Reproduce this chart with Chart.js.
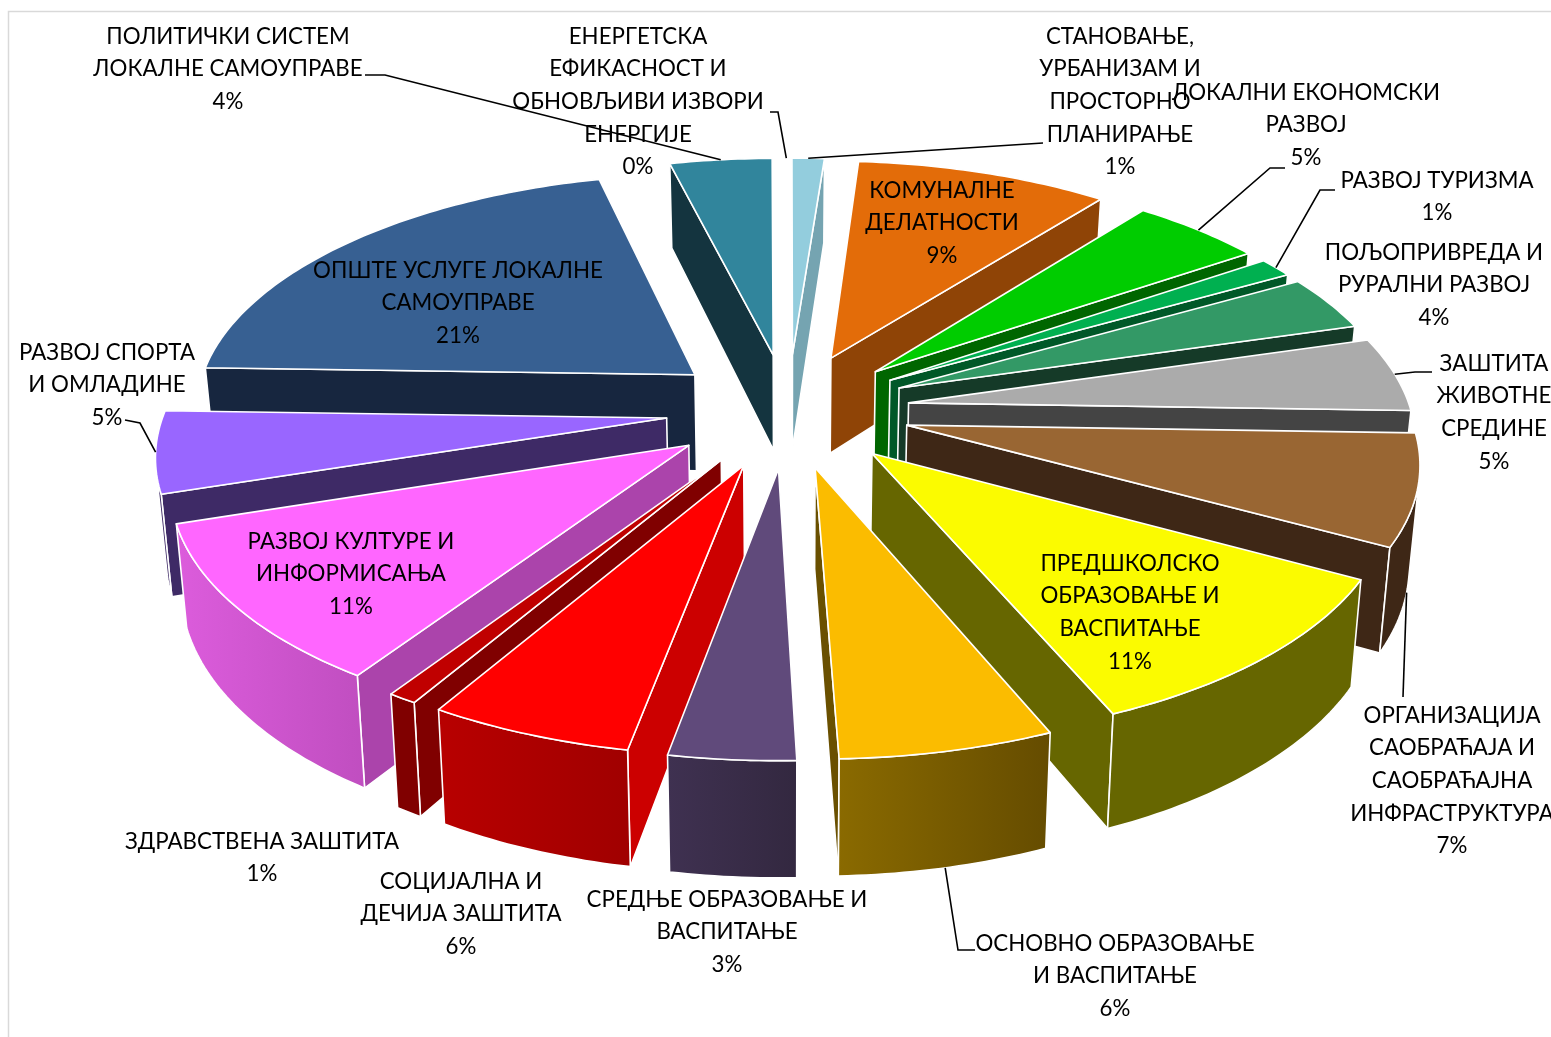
<!DOCTYPE html>
<html>
<head>
<meta charset="utf-8">
<title>Буџет по програмима</title>
<script src="https://cdn.jsdelivr.net/npm/chart.js@4"></script>
<style>
    html, body { margin: 0; padding: 0; background: #fff; overflow: hidden; }
    canvas { display: block; }
</style>
</head>
<body>
<canvas id="pieChart" width="1551" height="1037"></canvas>
<script>
// --- data, clockwise from 12 o'clock ---
const categories = [
    ["СТАНОВАЊЕ,", "УРБАНИЗАМ И", "ПРОСТОРНО", "ПЛАНИРАЊЕ"],
    ["КОМУНАЛНЕ", "ДЕЛАТНОСТИ"],
    ["ЛОКАЛНИ ЕКОНОМСКИ", "РАЗВОЈ"],
    ["РАЗВОЈ ТУРИЗМА"],
    ["ПОЉОПРИВРЕДА И", "РУРАЛНИ РАЗВОЈ"],
    ["ЗАШТИТА", "ЖИВОТНЕ", "СРЕДИНЕ"],
    ["ОРГАНИЗАЦИЈА", "САОБРАЋАЈА И", "САОБРАЋАЈНА", "ИНФРАСТРУКТУРА"],
    ["ПРЕДШКОЛСКО", "ОБРАЗОВАЊЕ И", "ВАСПИТАЊЕ"],
    ["ОСНОВНО ОБРАЗОВАЊЕ", "И ВАСПИТАЊЕ"],
    ["СРЕДЊЕ ОБРАЗОВАЊЕ И", "ВАСПИТАЊЕ"],
    ["СОЦИЈАЛНА И", "ДЕЧИЈА ЗАШТИТА"],
    ["ЗДРАВСТВЕНА ЗАШТИТА"],
    ["РАЗВОЈ КУЛТУРЕ И", "ИНФОРМИСАЊА"],
    ["РАЗВОЈ СПОРТА", "И ОМЛАДИНЕ"],
    ["ОПШТЕ УСЛУГЕ ЛОКАЛНЕ", "САМОУПРАВЕ"],
    ["ПОЛИТИЧКИ СИСТЕМ", "ЛОКАЛНЕ САМОУПРАВЕ"],
    ["ЕНЕРГЕТСКА", "ЕФИКАСНОСТ И", "ОБНОВЉИВИ ИЗВОРИ", "ЕНЕРГИЈЕ"]
];
const values = [1.2, 9.4, 4.9, 1.3, 3.7, 5.0, 7.4, 10.7, 5.85, 3.45, 5.6, 0.8, 10.7, 5.45, 20.6, 3.8, 0.1];

// --- colours ---
const topColors = ["#93CDDD", "#E36C09", "#00CC00", "#00B050", "#339966", "#ABABAB", "#996633", "#FBFB00", "#FBBC00", "#604A7B", "#FF0000", "#C00000", "#FF66FF", "#9966FF", "#376092", "#31859C", "#FFFFFF"];
const sideColors = ["#75A4B1", "#8F4406", "#006600", "#005828", "#153A28", "#444444", "#3E2716", "#666600", "#6A5000", "#3F3151", "#CC0000", "#800000", "#AB44AB", "#3E2A66", "#17263F", "#14343F", "#FFFFFF"];
const wallLeft = ["#75A4B1", "#8F4406", "#006600", "#005828", "#153A28", "#444444", "#3E2716", "#666600", "#8A6A00", "#3F3151", "#B80000", "#800000", "#DC5CDC", "#3E2A66", "#17263F", "#14343F", "#FFFFFF"];
const wallRight = ["#75A4B1", "#8F4406", "#006600", "#005828", "#153A28", "#444444", "#3E2716", "#666600", "#654C00", "#332840", "#A00000", "#800000", "#C04EC0", "#3E2A66", "#17263F", "#14343F", "#FFFFFF"];

// --- label layout: centre x, first line y, line height ---
const labelX = [1120, 942, 1306, 1437, 1434, 1494, 1452, 1130, 1115, 727, 461, 262, 351, 107, 458, 228, 638];
const labelY = [36, 190, 92, 180, 252, 363, 715, 563, 943, 899, 881, 841, 541, 352, 270, 36, 36];
const LINE_H = 32.6;
const TEXT_SQUEEZE = 0.93;

// leader lines: slice index, points next to the label, height on the wall where it ends
const leaders = [
    { slice: 15, pts: [[365, 75], [385, 75]], z: 0 },
    { slice: 16, pts: [[770, 112], [778, 112]], z: 0 },
    { slice: 0, pts: [[1043, 143]], z: 0 },
    { slice: 2, pts: [[1285, 168], [1270, 168]], z: 0 },
    { slice: 3, pts: [[1335, 190], [1320, 190]], z: 0 },
    { slice: 5, pts: [[1432, 372], [1415, 372]], z: 0 },
    { slice: 6, pts: [[1403, 697]], z: 1 },
    { slice: 8, pts: [[975, 950], [958, 950]], z: 1 },
    { slice: 13, pts: [[125, 420], [140, 423]], z: 0 }
];

// --- fake 3D view of the pie ---
const RADIUS = 502;
const EXPLODE = 122;
const TILT = 0.47;
const PERSPECTIVE = 3800;
const DEPTH = 98;

function project(cx, cy, u, v, z) {
    const k = 1 / (1 - v / PERSPECTIVE);
    return {
        x: cx + u * k * (1 - 0.017 * z),
        y: cy + v * TILT * k + z * DEPTH * k
    };
}

function slicePoint(el, angle, r, z) {
    const mid = (el.startAngle + el.endAngle) / 2;
    const off = el.options.offset;
    const u = off * Math.cos(mid) + r * Math.cos(angle);
    const v = off * Math.sin(mid) + r * Math.sin(angle);
    return project(el.x, el.y, u, v, z);
}

function area(pts) {
    let s = 0;
    pts.forEach((p, i) => {
        const q = pts[(i + 1) % pts.length];
        s += p.x * q.y - q.x * p.y;
    });
    return s;
}

function fillPoly(ctx, pts, fill) {
    ctx.beginPath();
    pts.forEach((p, i) => i ? ctx.lineTo(p.x, p.y) : ctx.moveTo(p.x, p.y));
    ctx.closePath();
    ctx.fillStyle = fill;
    ctx.fill();
    ctx.stroke();
}

function drawSlice(ctx, el, i) {
    const r = el.outerRadius;
    const a0 = el.startAngle;
    const a1 = el.endAngle;
    ctx.strokeStyle = "#fff";
    ctx.lineWidth = 1.6;
    ctx.lineJoin = "round";

    // radial walls, only the ones turned to the viewer
    const startWall = [slicePoint(el, a0, 0, 0), slicePoint(el, a0, r, 0), slicePoint(el, a0, r, 1), slicePoint(el, a0, 0, 1)];
    const endWall = [slicePoint(el, a1, 0, 0), slicePoint(el, a1, r, 0), slicePoint(el, a1, r, 1), slicePoint(el, a1, 0, 1)];
    if (area(startWall) < 0) fillPoly(ctx, startWall, sideColors[i]);
    if (area(endWall) > 0) fillPoly(ctx, endWall, sideColors[i]);

    // outer wall and top face
    const steps = Math.max(2, Math.ceil((a1 - a0) * 60));
    const rim = [];
    const front = [];
    for (let s = 0; s <= steps; s++) {
        rim.push(slicePoint(el, a0 + (a1 - a0) * s / steps, r, 0));
        if (s > 0) {
            const p = rim[s - 1];
            const q = rim[s];
            const pb = slicePoint(el, a0 + (a1 - a0) * (s - 1) / steps, r, 1);
            const qb = slicePoint(el, a0 + (a1 - a0) * s / steps, r, 1);
            if (area([p, q, qb, pb]) < 0) front.push({ p, q, pb, qb });
        }
    }
    if (front.length) {
        const top = front.map(f => f.p).concat(front[front.length - 1].q);
        const bottom = front.map(f => f.pb).concat(front[front.length - 1].qb);
        const pts = top.concat(bottom.reverse());
        const xs = pts.map(p => p.x);
        const grad = ctx.createLinearGradient(Math.min(...xs), 0, Math.max(...xs), 0);
        grad.addColorStop(0, wallLeft[i]);
        grad.addColorStop(1, wallRight[i]);
        fillPoly(ctx, pts, grad);
    }
    fillPoly(ctx, [slicePoint(el, a0, 0, 0)].concat(rim), el.options.backgroundColor);
}

const pie3d = {
    id: "pie3d",
    beforeDatasetsDraw(chart) {
        const ctx = chart.ctx;
        const arcs = chart.getDatasetMeta(0).data;
        // back slices first
        const order = arcs.map((el, i) => i).sort((a, b) => {
            const m = el => Math.sin((el.startAngle + el.endAngle) / 2);
            return m(arcs[a]) - m(arcs[b]);
        });
        ctx.save();
        // frame of the chart area
        ctx.strokeStyle = "#D9D9D9";
        ctx.lineWidth = 1.5;
        ctx.beginPath();
        ctx.moveTo(8.5, 1037);
        ctx.lineTo(8.5, 11.5);
        ctx.lineTo(1551, 11.5);
        ctx.stroke();
        order.forEach(i => drawSlice(ctx, arcs[i], i));
        ctx.restore();
        return false;
    },
    afterDraw(chart) {
        const ctx = chart.ctx;
        const arcs = chart.getDatasetMeta(0).data;
        ctx.save();
        ctx.strokeStyle = "#000";
        ctx.lineWidth = 1.6;
        leaders.forEach(l => {
            const el = arcs[l.slice];
            const end = slicePoint(el, (el.startAngle + el.endAngle) / 2, el.outerRadius, l.z);
            ctx.beginPath();
            l.pts.forEach((p, n) => n ? ctx.lineTo(p[0], p[1]) : ctx.moveTo(p[0], p[1]));
            ctx.lineTo(end.x, end.y);
            ctx.stroke();
        });
        ctx.fillStyle = "#000";
        ctx.font = "24px Lato, 'Open Sans', sans-serif";
        ctx.textAlign = "center";
        ctx.textBaseline = "middle";
        categories.forEach((lines, i) => {
            lines.concat(Math.round(values[i]) + "%").forEach((t, n) => {
                ctx.fillText(t, labelX[i], labelY[i] + n * LINE_H, ctx.measureText(t).width * TEXT_SQUEEZE);
            });
        });
        ctx.restore();
    }
};

new Chart(document.getElementById("pieChart"), {
    type: "pie",
    data: {
        labels: categories.map(c => c.join(" ")),
        datasets: [{ data: values, backgroundColor: topColors, offset: EXPLODE, borderWidth: 0 }]
    },
    options: {
        responsive: false,
        animation: false,
        radius: RADIUS,
        layout: { padding: { left: 25, bottom: 217 } },
        plugins: { legend: { display: false }, tooltip: { enabled: false } }
    },
    plugins: [pie3d]
});
</script>
</body>
</html>
